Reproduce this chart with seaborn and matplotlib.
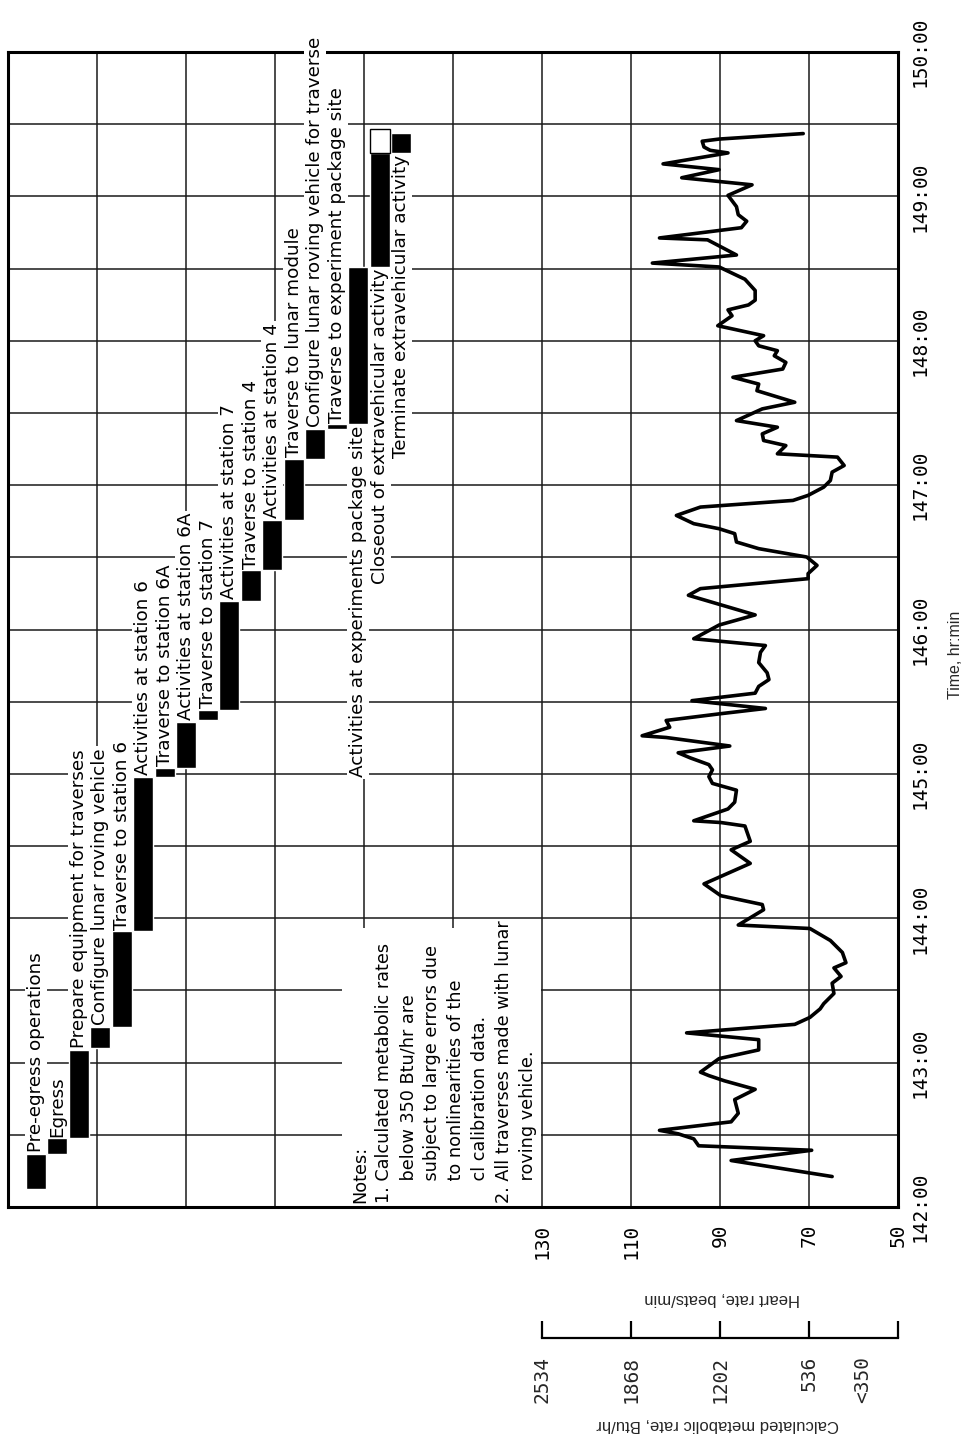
import matplotlib
matplotlib.use("Agg")
import matplotlib.pyplot as plt
from matplotlib.patches import Rectangle
import numpy as np
import pandas as pd
import seaborn as sns

# ---------------- data ----------------
hr_time = [142.211, 142.322, 142.393, 142.424, 142.472, 142.507, 142.531, 142.590, 142.649, 142.744,
           142.815, 142.874, 142.910, 142.934, 143.028, 143.088, 143.159, 143.206, 143.265, 143.313,
           143.372, 143.408, 143.479, 143.550, 143.597, 143.656, 143.692, 143.763, 143.846, 143.929,
           143.953, 144.059, 144.095, 144.156, 144.238, 144.380, 144.474, 144.533, 144.639, 144.663,
           144.675, 144.757, 144.804, 144.887, 144.934, 144.981, 145.028, 145.064, 145.111, 145.146,
           145.193, 145.252, 145.264, 145.323, 145.370, 145.417, 145.453, 145.507, 145.559, 145.606,
           145.653, 145.700, 145.771, 145.842, 145.889, 145.936, 146.031, 146.101, 146.237, 146.283,
           146.352, 146.387, 146.444, 146.502, 146.560, 146.606, 146.664, 146.698, 146.733, 146.790,
           146.848, 146.894, 146.929, 146.986, 147.032, 147.090, 147.136, 147.194, 147.217, 147.274,
           147.309, 147.355, 147.401, 147.447, 147.528, 147.574, 147.654, 147.700, 147.747, 147.804,
           147.850, 147.896, 147.931, 147.965, 148.000, 148.035, 148.104, 148.173, 148.214, 148.248,
           148.281, 148.348, 148.426, 148.511, 148.538, 148.594, 148.699, 148.712, 148.783, 148.828,
           148.873, 148.929, 149.007, 149.080, 149.129, 149.185, 149.225, 149.301, 149.319, 149.342,
           149.382, 149.397, 149.435]
hr_value = [64.8, 87.5, 69.4, 94.8, 95.9, 99.4, 103.6, 87.5, 85.9, 86.7,
            82.1, 89.0, 92.5, 94.4, 90.2, 81.3, 81.3, 97.5, 73.2, 69.8,
            67.5, 66.7, 64.4, 64.8, 62.8, 64.4, 61.7, 62.5, 65.2, 69.8,
            85.9, 80.2, 80.5, 89.8, 93.6, 83.2, 87.5, 83.2, 84.4, 89.8,
            95.9, 88.2, 86.7, 86.3, 91.7, 92.5, 91.7, 92.5, 96.7, 99.4,
            87.8, 102.1, 107.5, 101.3, 102.1, 89.8, 79.8, 96.3, 82.1, 81.3,
            79.0, 79.4, 81.3, 80.9, 79.8, 95.9, 90.2, 82.1, 97.1, 94.4,
            70.2, 70.2, 68.2, 70.5, 81.3, 86.3, 86.7, 90.2, 95.9, 99.8,
            94.4, 73.6, 70.2, 66.7, 65.2, 64.8, 62.1, 63.6, 77.1, 75.2,
            80.2, 80.5, 77.1, 86.3, 80.5, 73.2, 81.7, 81.3, 87.1, 75.9,
            75.2, 77.8, 77.1, 81.3, 82.1, 80.2, 90.5, 87.3, 88.2, 83.6,
            82.1, 82.1, 84.4, 90.2, 105.2, 86.3, 92.8, 103.6, 85.2, 84.0,
            85.9, 86.3, 88.2, 82.8, 98.6, 90.2, 102.8, 88.2, 92.2, 93.6,
            94.0, 90.2, 71.3]

activities = ["Pre-egress operations", "Egress", "Prepare equipment for traverses",
              "Configure lunar roving vehicle", "Traverse to station 6", "Activities at station 6",
              "Traverse to station 6A", "Activities at station 6A", "Traverse to station 7",
              "Activities at station 7", "Traverse to station 4", "Activities at station 4",
              "Traverse to lunar module", "Configure lunar roving vehicle for traverse",
              "Traverse to experiment package site", "Activities at experiments package site",
              "Closeout of extravehicular activity", "Terminate extravehicular activity"]
act_start = [142.127, 142.370, 142.475, 143.100, 143.250, 143.910, 144.980, 145.040, 145.375,
             145.445, 146.200, 146.410, 146.760, 147.180, 147.390, 147.420, 148.510, 149.300]
act_end = [142.370, 142.475, 143.090, 143.250, 143.910, 144.980, 145.040, 145.360, 145.445,
           146.200, 146.410, 146.760, 147.180, 147.390, 147.420, 148.510, 149.300, 149.440]
label_side = ["above"] * 15 + ["below"] * 3
open_start, open_end = [149.300], [149.470]   # unfilled tail of the closeout bar

hr_grid = [50, 70, 90, 110, 130, 150, 170, 190, 210, 230, 250]
hr_tick_labels = ["50", "70", "90", "110", "130", "", "", "", "", "", ""]
time_grid = [142.0, 142.5, 143.0, 143.5, 144.0, 144.5, 145.0, 145.5, 146.0,
             146.5, 147.0, 147.5, 148.0, 148.5, 149.0, 149.5, 150.0]
time_labels = ["142:00", "", "143:00", "", "144:00", "", "145:00", "", "146:00",
               "", "147:00", "", "148:00", "", "149:00", "", "150:00"]
met_tick_hr = [130, 110, 90, 70, 50]
met_tick_labels = ["2534", "1868", "1202", "536", ""]
met_low_hr, met_low_label = [58], ["<350"]

notes = ("Notes:\n"
         "1. Calculated metabolic rates\n"
         "    below 350 Btu/hr are\n"
         "    subject to large errors due\n"
         "    to nonlinearities of the\n"
         "    cl calibration data.\n"
         "2. All traverses made with lunar\n"
         "    roving vehicle.")

# ---------------- style ----------------
sns.set_theme(style="white")
plt.rcParams["font.family"] = ["DejaVu Sans"]
MONO = "DejaVu Sans Mono"
TITLE_FONT = ["Liberation Sans", "DejaVu Sans"]

W, H = 965, 1442
fig = plt.figure(figsize=(W / 100, H / 100), dpi=100)
L, R, T, B = 8, 898, 52, 1207
ax = fig.add_axes([L / W, 1 - B / H, (R - L) / W, (B - T) / H])

df = pd.DataFrame({"time": hr_time, "hr": hr_value})
sns.lineplot(data=df, x="hr", y="time", orient="y", sort=False, estimator=None,
             color="black", lw=2.6, ax=ax, zorder=3)
ax.set_xlim(250, 50)
ax.set_ylim(142, 150)
ax.set_xlabel("")
ax.set_ylabel("")

ax.set_xticks(hr_grid)
ax.set_xticklabels(hr_tick_labels)
ax.set_yticks(time_grid)
ax.set_yticklabels(time_labels)
ax.yaxis.tick_right()
ax.tick_params(axis="x", length=0, pad=12, labelrotation=90, labelsize=14)
ax.tick_params(axis="y", length=0, pad=9, labelrotation=90, labelsize=14)
for lbl in ax.get_xticklabels() + ax.get_yticklabels():
    lbl.set_fontfamily(MONO)
    lbl.set_color("black")
for lbl in ax.get_yticklabels():
    lbl.set_verticalalignment("center")
ax.grid(True, color="#1a1a1a", lw=1.1)
ax.set_axisbelow(True)
for s in ax.spines.values():
    s.set_visible(True)
    s.set_color("black")
    s.set_linewidth(2.2)

# notes panel (white field over the grid)
ax.add_patch(Rectangle((175.0, 142.0), 130.3 - 175.0, 143.93 - 142.0,
                       facecolor="white", edgecolor="none", zorder=1))
ax.text(172.8, 142.03, notes, rotation=90, rotation_mode="anchor", ha="left", va="top",
        fontsize=12.7, linespacing=1.42, color="black", zorder=4)

# activity time line (staircase of bars)
ax2 = ax.twiny()
ax2.set_xlim(-0.837, 40.56)
ax2.set_ylim(142, 150)
ax2.set_xticks([])
for s in ax2.spines.values():
    s.set_visible(False)
rows = np.arange(len(activities))
heights = np.array(act_end) - np.array(act_start)
ax2.bar(rows + 0.465, heights, bottom=act_start, width=0.93, color="black", zorder=3.8)
for s0, s1 in zip(open_start, open_end):
    ax2.add_patch(Rectangle((16, s0), 0.93, s1 - s0, facecolor="white",
                            edgecolor="black", lw=1.0, zorder=3.8))
for i, (name, s0, s1, side) in enumerate(zip(activities, act_start, act_end, label_side)):
    if side == "above":
        ypos, ha = s1 + 0.012, "left"
    else:
        ypos, ha = s0 - 0.012, "right"
    common = dict(rotation=90, rotation_mode="anchor", ha=ha, va="center", fontsize=13.2)
    # white knock-out behind the label, then the label itself
    ax2.text(i + 0.465, ypos, name, color="white", zorder=3.6,
             bbox=dict(facecolor="white", edgecolor="none", pad=1.5), **common)
    ax2.text(i + 0.465, ypos, name, color="black", zorder=4, **common)

# metabolic-rate scale bracket
ax3 = fig.add_axes([L / W, 1 - 1338 / H, (R - L) / W, 0.0005])
ax3.set_xlim(250, 50)
ax3.patch.set_visible(False)
for k in ["top", "left", "right"]:
    ax3.spines[k].set_visible(False)
ax3.spines["bottom"].set_bounds(50, 130)
ax3.spines["bottom"].set_linewidth(1.6)
ax3.spines["bottom"].set_color("black")
ax3.set_yticks([])
ax3.set_xticks(met_tick_hr)
ax3.set_xticklabels(met_tick_labels)
ax3.set_xticks(met_low_hr, minor=True)
ax3.set_xticklabels(met_low_label, minor=True)
ax3.tick_params(axis="x", which="major", bottom=True, direction="in", length=12, width=1.6,
                color="black", pad=13, labelrotation=90, labelsize=14)
ax3.tick_params(axis="x", which="minor", bottom=True, length=0, pad=13,
                labelrotation=90, labelsize=14)
for lbl in ax3.get_xticklabels() + ax3.get_xticklabels(minor=True):
    lbl.set_fontfamily(MONO)

fig.text(722 / W, 1 - 1298 / H, "Heart rate, beats/min", rotation=180,
         ha="center", va="center", fontsize=12, family=TITLE_FONT)
fig.text(718 / W, 1 - 1425 / H, "Calculated metabolic rate, Btu/hr", rotation=180,
         ha="center", va="center", fontsize=12, family=TITLE_FONT)
fig.text(955 / W, 1 - 655 / H, "Time, hr:min", rotation=90,
         ha="center", va="center", fontsize=11.5, family=TITLE_FONT)

fig.savefig("out.png", dpi=100, facecolor="white")
